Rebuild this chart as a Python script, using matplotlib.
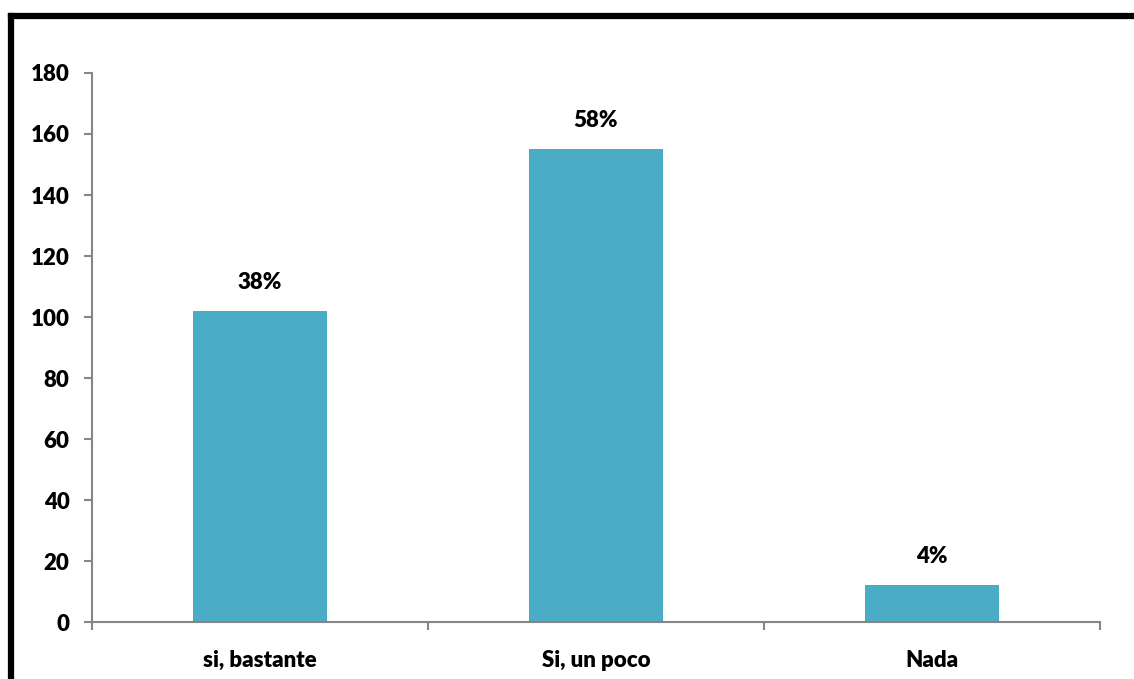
import matplotlib
matplotlib.use("Agg")
import matplotlib.pyplot as plt
from matplotlib.lines import Line2D

categorias = ["si, bastante", "Si, un poco", "Nada"]
valores = [102, 155, 12]
etiquetas = ["38%", "58%", "4%"]

plt.rcParams['font.family'] = ['Lato', 'DejaVu Sans']
PESO = 'heavy'
TAM = 16

fig = plt.figure(figsize=(11.34, 6.79), dpi=100)
ax = fig.add_axes([0.0811, 0.0839, 0.8889, 0.8086])

x = range(len(categorias))
ax.bar(x, valores, width=0.4, color='#4BACC6', zorder=2)
for xi, v, t in zip(x, valores, etiquetas):
    ax.text(xi, v + 6, t, ha='center', va='bottom', fontsize=TAM, fontweight=PESO)

ax.set_xlim(-0.5, len(categorias) - 0.5)
ax.set_ylim(0, 180)
ax.set_yticks(range(0, 181, 20))
ax.set_yticklabels([str(v) for v in range(0, 181, 20)], fontsize=TAM, fontweight=PESO)

# marcas en los límites de categoría, etiquetas centradas
ax.set_xticks([i - 0.5 for i in range(len(categorias) + 1)])
ax.set_xticklabels([])
ax.set_xticks(list(x), minor=True)
ax.set_xticklabels(categorias, minor=True, fontsize=TAM, fontweight=PESO)
ax.tick_params(axis='x', which='minor', length=0, pad=20)
ax.tick_params(axis='x', which='major', length=6, color='#868686', width=1.5, direction='out')
ax.tick_params(axis='y', length=6, color='#868686', width=1.5, direction='out', pad=10)

for s in ['top', 'right']:
    ax.spines[s].set_visible(False)
for s in ['left', 'bottom']:
    ax.spines[s].set_color('#868686')
    ax.spines[s].set_linewidth(1.5)

# marco negro (arriba e izquierda)
fig.add_artist(Line2D([11 / 1134, 11 / 1134], [0, 1 - 16 / 679], color='black', linewidth=4.5,
                      solid_capstyle='projecting', transform=fig.transFigure))
fig.add_artist(Line2D([11 / 1134, 1.01], [1 - 16 / 679, 1 - 16 / 679], color='black', linewidth=4.5,
                      solid_capstyle='projecting', transform=fig.transFigure))

fig.savefig("out.png", dpi=100)
